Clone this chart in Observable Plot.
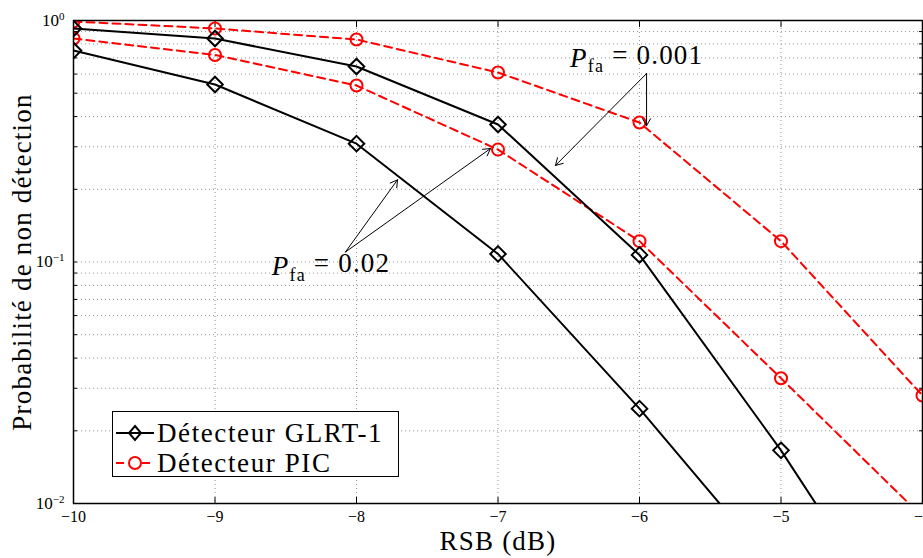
<!DOCTYPE html>
<html><head><meta charset="utf-8">
<script src="https://cdn.jsdelivr.net/npm/d3@7"></script>
<script src="https://cdn.jsdelivr.net/npm/@observablehq/plot@0.6"></script>
<style>
body{margin:0;background:#fff;}
#wrap{position:relative;width:923px;height:558px;overflow:hidden;}
#legend{position:absolute;left:112px;top:411px;width:287px;height:66px;border:1.4px solid #000;background:#fff;font-family:"Liberation Serif",serif;font-size:27px;letter-spacing:1.6px;box-sizing:border-box;}
#legend .row{position:absolute;left:0;height:30px;display:flex;align-items:center;white-space:nowrap;}
#legend svg{display:block;}
</style></head><body><div id="wrap"></div>
<script>
const rsb = [-10, -9, -8, -7, -6, -5, -4];
const glrtPfa001 = [0.927, 0.842, 0.645, 0.371, 0.107, 0.0166, 0.0021];
const glrtPfa02  = [0.751, 0.543, 0.309, 0.108, 0.0247, 0.005, 0.001];
const picPfa001  = [0.99, 0.927, 0.834, 0.609, 0.378, 0.122, 0.028];
const picPfa02   = [0.842, 0.72, 0.538, 0.292, 0.122, 0.033, 0.0088];
const seriesNames = ["Détecteur GLRT-1", "Détecteur PIC"];
const xLabel = "RSB (dB)";
const yLabel = "Probabilité de non détection";
const yMajor = [0.01, 0.1, 1];
const yMajorLabels = ["−2", "−1", "0"];
const yGrid = [];
for (const d of [0.01, 0.1]) for (let k = 1; k <= 9; k++) yGrid.push(+(d * k).toPrecision(3));
yGrid.push(1);
const annLabels = [{x: -6.02, y: 0.70, t: "0.001"}, {x: -8.18, y: 0.0958, t: "0.02"}];
const arrows = [
  {x1: -5.95, y1: 0.603, x2: -6.594, y2: 0.251},
  {x1: -5.95, y1: 0.603, x2: -5.95, y2: 0.367},
  {x1: -8.078, y1: 0.110, x2: -7.710, y2: 0.219},
  {x1: -8.078, y1: 0.110, x2: -7.053, y2: 0.295}
];

const toRows = (vals) => rsb.map((x, i) => ({x, y: vals[i]}));
const glrtA = toRows(glrtPfa001), glrtB = toRows(glrtPfa02);
const picA = toRows(picPfa001), picB = toRows(picPfa02);
const serif = "Liberation Serif, serif";
const fmtX = d => (d < 0 ? "−" : "") + Math.abs(d);

const chart = Plot.plot({
  width: 923, height: 558,
  marginLeft: 73, marginRight: 1, marginTop: 20, marginBottom: 55,
  style: {fontFamily: serif, background: "#fff", overflow: "visible", color: "#000"},
  x: {domain: [-10, -4]},
  y: {type: "log", domain: [0.01, 1]},
  marks: [
    Plot.gridX(rsb, {stroke: "#777", strokeOpacity: 1, strokeDasharray: "1,3", strokeWidth: 0.8}),
    Plot.gridY(yGrid, {stroke: "#777", strokeOpacity: 1, strokeDasharray: "1,3", strokeWidth: 0.8}),
    Plot.axisX(rsb, {tickSize: 0, tickPadding: 7, fontSize: 16, tickFormat: fmtX, label: xLabel, labelAnchor: "center", labelArrow: "none", labelOffset: 46}),
    Plot.axisX(rsb, {tickSize: -6, tickFormat: () => "", label: null}),
    Plot.axisX(rsb, {anchor: "top", tickSize: -6, tickFormat: () => "", label: null}),
    Plot.axisY(yMajor, {tickSize: 0, tickPadding: 9, fontSize: 17, tickFormat: d => "10^" + yMajorLabels[yMajor.indexOf(d)], label: yLabel, labelAnchor: "center", labelArrow: "none", labelOffset: 62}),
    Plot.axisY(yGrid, {tickSize: -4, tickFormat: () => "", label: null}),
    Plot.axisY(yGrid, {anchor: "right", tickSize: -4, tickFormat: () => "", label: null}),
    Plot.line(picA, {x: "x", y: "y", stroke: "#ff0000", strokeWidth: 2, strokeDasharray: "8,5", clip: true}),
    Plot.line(picB, {x: "x", y: "y", stroke: "#ff0000", strokeWidth: 2, strokeDasharray: "8,5", clip: true}),
    Plot.dot(picA, {x: "x", y: "y", r: 6, stroke: "#ff0000", strokeWidth: 2, fill: "none", clip: true}),
    Plot.dot(picB, {x: "x", y: "y", r: 6, stroke: "#ff0000", strokeWidth: 2, fill: "none", clip: true}),
    Plot.line(glrtA, {x: "x", y: "y", stroke: "#000", strokeWidth: 2, clip: true}),
    Plot.line(glrtB, {x: "x", y: "y", stroke: "#000", strokeWidth: 2, clip: true}),
    Plot.dot(glrtA, {x: "x", y: "y", symbol: "diamond2", r: 7, stroke: "#000", strokeWidth: 2, fill: "none", clip: true}),
    Plot.dot(glrtB, {x: "x", y: "y", symbol: "diamond2", r: 7, stroke: "#000", strokeWidth: 2, fill: "none", clip: true}),
    Plot.arrow(arrows, {x1: "x1", y1: "y1", x2: "x2", y2: "y2", stroke: "#000", strokeWidth: 1, headLength: 12, insetEnd: 0}),
    Plot.text(annLabels, {x: "x", y: "y", text: d => "Pfa|" + d.t, fontSize: 27, fill: "#000"}),
    Plot.frame({stroke: "#000", strokeWidth: 1.5})
  ]
});

const texts = d3.select(chart).selectAll("text");
texts.each(function() {
  const s = this.textContent;
  const t = d3.select(this);
  if (s.startsWith("10^")) {
    t.text(null);
    t.append("tspan").text("10");
    t.append("tspan").attr("font-size", 11).attr("dy", "-0.55em").text(s.slice(3));
  } else if (s.startsWith("Pfa|")) {
    t.text(null);
    t.attr("letter-spacing", "1.2px");
    t.append("tspan").attr("font-style", "italic").text("P");
    t.append("tspan").attr("font-size", 18).attr("dy", "0.3em").text("fa");
    t.append("tspan").attr("dy", "-0.3em").text(" = " + s.slice(4));
  } else if (s === xLabel || s === yLabel) {
    t.attr("font-size", 27).attr("letter-spacing", "1.2px").attr("fill", "#000");
  }
});

const wrap = document.getElementById("wrap");
wrap.appendChild(chart);

const legend = document.createElement("div");
legend.id = "legend";
const items = [
  {name: seriesNames[0], color: "#000", dash: null, sym: "diamond"},
  {name: seriesNames[1], color: "#ff0000", dash: "8,5", sym: "circle"}
];
items.forEach((it, i) => {
  const row = document.createElement("div");
  row.className = "row";
  row.style.top = (6 + i * 30) + "px";
  const sv = d3.create("svg").attr("width", 44).attr("height", 30);
  sv.append("line").attr("x1", 3).attr("x2", 41).attr("y1", 15).attr("y2", 15)
    .attr("stroke", it.color).attr("stroke-width", 2).attr("stroke-dasharray", it.dash);
  if (it.sym === "diamond") sv.append("path").attr("d", "M22,8L28,15L22,22L16,15Z").attr("fill", "none").attr("stroke", it.color).attr("stroke-width", 2);
  else sv.append("circle").attr("cx", 22).attr("cy", 15).attr("r", 6).attr("fill", "#fff").attr("stroke", it.color).attr("stroke-width", 2);
  row.appendChild(sv.node());
  const sp = document.createElement("span");
  sp.textContent = it.name;
  row.appendChild(sp);
  legend.appendChild(row);
});
wrap.appendChild(legend);
</script></body></html>
